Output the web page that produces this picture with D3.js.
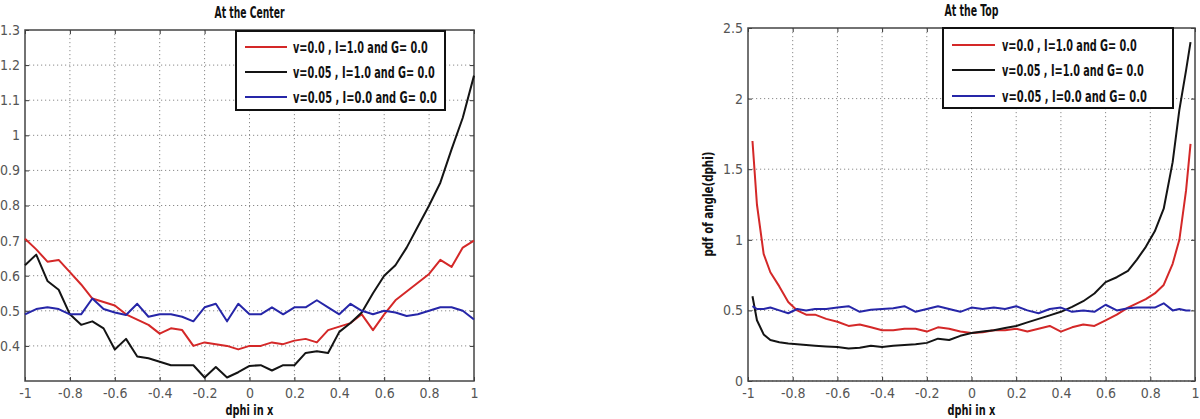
<!DOCTYPE html>
<html>
<head>
<meta charset="utf-8">
<script src="https://d3js.org/d3.v7.min.js"></script>
<style>
  body { margin: 0; background: #fff; }
  text { font-family: "Liberation Sans Narrow", "DejaVu Sans Condensed", "Liberation Sans", Arial, sans-serif; }
</style>
</head>
<body>
<div id="my_dataviz"></div>
<script>
// ---- data: left panel "At the Center" ----
const xCenter = [-1, -0.95, -0.9, -0.85, -0.8, -0.75, -0.7, -0.65, -0.6, -0.55, -0.5, -0.45, -0.4, -0.35, -0.3, -0.25, -0.2, -0.15, -0.1, -0.05,
  0, 0.05, 0.1, 0.15, 0.2, 0.25, 0.3, 0.35, 0.4, 0.45, 0.5, 0.55, 0.6, 0.65, 0.7, 0.75, 0.8, 0.85, 0.9, 0.95, 1];
const redCenter = [0.705, 0.675, 0.64, 0.645, 0.61, 0.575, 0.535, 0.525, 0.515, 0.49, 0.475, 0.46, 0.435, 0.45, 0.445, 0.40, 0.41, 0.405, 0.40, 0.39,
  0.40, 0.40, 0.41, 0.405, 0.415, 0.42, 0.41, 0.445, 0.455, 0.465, 0.49, 0.445, 0.49, 0.53, 0.555, 0.58, 0.605, 0.645, 0.625, 0.68, 0.70];
const blackCenter = [0.63, 0.66, 0.585, 0.56, 0.49, 0.46, 0.47, 0.45, 0.39, 0.42, 0.37, 0.365, 0.355, 0.345, 0.345, 0.345, 0.31, 0.34, 0.31, 0.325,
  0.343, 0.345, 0.33, 0.345, 0.345, 0.38, 0.385, 0.38, 0.44, 0.465, 0.495, 0.55, 0.60, 0.63, 0.68, 0.74, 0.80, 0.865, 0.96, 1.05, 1.17];
const blueCenter = [0.49, 0.505, 0.51, 0.505, 0.49, 0.49, 0.535, 0.505, 0.495, 0.488, 0.52, 0.483, 0.49, 0.49, 0.483, 0.47, 0.51, 0.52, 0.47, 0.52,
  0.49, 0.49, 0.51, 0.49, 0.51, 0.51, 0.53, 0.51, 0.49, 0.52, 0.50, 0.49, 0.50, 0.495, 0.485, 0.49, 0.50, 0.51, 0.51, 0.50, 0.475];
const yTicksCenter = [0.4, 0.5, 0.6, 0.7, 0.8, 0.9, 1, 1.1, 1.2, 1.3];

// ---- data: right panel "At the Top" ----
const xTop = [-0.98, -0.96, -0.93, -0.9, -0.86, -0.82, -0.78, -0.74, -0.7, -0.65, -0.6, -0.55, -0.5, -0.45, -0.4, -0.35, -0.3, -0.25, -0.2, -0.15, -0.1, -0.05,
  0, 0.05, 0.1, 0.15, 0.2, 0.25, 0.3, 0.35, 0.4, 0.45, 0.5, 0.55, 0.6, 0.65, 0.7, 0.74, 0.78, 0.82, 0.86, 0.9, 0.93, 0.96, 0.98];
const redTop = [1.70, 1.25, 0.90, 0.77, 0.67, 0.56, 0.50, 0.47, 0.47, 0.44, 0.42, 0.39, 0.40, 0.38, 0.36, 0.36, 0.37, 0.37, 0.35, 0.38, 0.37, 0.35,
  0.34, 0.345, 0.36, 0.36, 0.37, 0.35, 0.37, 0.39, 0.35, 0.38, 0.40, 0.39, 0.43, 0.47, 0.52, 0.55, 0.58, 0.62, 0.68, 0.83, 1.0, 1.35, 1.68];
const blackTop = [0.60, 0.43, 0.33, 0.29, 0.275, 0.265, 0.26, 0.255, 0.25, 0.245, 0.24, 0.23, 0.235, 0.25, 0.24, 0.25, 0.255, 0.26, 0.27, 0.30, 0.29, 0.32,
  0.34, 0.35, 0.36, 0.375, 0.39, 0.415, 0.44, 0.465, 0.49, 0.525, 0.565, 0.62, 0.70, 0.735, 0.78, 0.86, 0.95, 1.06, 1.22, 1.55, 1.92, 2.2, 2.4];
const blueTop = [0.53, 0.51, 0.51, 0.52, 0.50, 0.48, 0.51, 0.50, 0.51, 0.51, 0.52, 0.53, 0.49, 0.505, 0.51, 0.515, 0.53, 0.49, 0.51, 0.53, 0.51, 0.49,
  0.52, 0.51, 0.52, 0.51, 0.53, 0.50, 0.48, 0.51, 0.52, 0.49, 0.50, 0.49, 0.54, 0.50, 0.515, 0.52, 0.52, 0.52, 0.55, 0.50, 0.51, 0.50, 0.50];
const yTicksTop = [0, 0.5, 1, 1.5, 2, 2.5];

const xTicks = [-1, -0.8, -0.6, -0.4, -0.2, 0, 0.2, 0.4, 0.6, 0.8, 1];
const legendLabels = ["v=0.0 , I=1.0 and G= 0.0", "v=0.05 , I=1.0 and G= 0.0", "v=0.05 , I=0.0 and G= 0.0"];
const seriesColors = ["#d42828", "#141414", "#2626a8"];

// the svg object
const svg = d3.select("#my_dataviz")
  .append("svg")
    .attr("width", 1200)
    .attr("height", 419);

// bold text squeezed sideways to a given width (the matlab export looks condensed)
function boldText(g, str, x, y, w, size) {
  const t = g.append("text")
    .attr("font-size", size)
    .attr("font-weight", "bold")
    .attr("fill", "#111")
    .text(str);
  const k = w / t.node().getComputedTextLength();
  t.attr("transform", `translate(${x},${y}) scale(${k},1)`);
  return t;
}

function drawPanel(p) {
  const width = p.width, height = p.height;
  const g = svg.append("g").attr("transform", `translate(${p.left},${p.top})`);

  const x = d3.scaleLinear().domain([-1, 1]).range([0, width]);
  const y = d3.scaleLinear().domain(p.yDomain).range([height, 0]);

  // dotted grid
  const grid = g.append("g").attr("class", "grid");
  grid.selectAll("line.gx")
    .data(xTicks.slice(1, -1))
    .enter().append("line")
      .attr("x1", d => x(d)).attr("x2", d => x(d))
      .attr("y1", 0).attr("y2", height);
  grid.selectAll("line.gy")
    .data(p.yTicks.filter(d => d !== p.yDomain[1]))
    .enter().append("line")
      .attr("x1", 0).attr("x2", width)
      .attr("y1", d => y(d)).attr("y2", d => y(d));
  grid.selectAll("line")
    .attr("stroke", "#8a8a8a")
    .attr("stroke-width", 1)
    .attr("stroke-dasharray", "1.2,2.8");

  // axes with inward ticks
  const fmt = d => String(d);
  const xAxis = g.append("g")
    .attr("transform", `translate(0,${height})`)
    .call(d3.axisBottom(x).tickValues(xTicks).tickFormat(fmt).tickSizeInner(-4).tickSizeOuter(0).tickPadding(7));
  const yAxis = g.append("g")
    .call(d3.axisLeft(y).tickValues(p.yTicks).tickFormat(fmt).tickSizeInner(-4).tickSizeOuter(0).tickPadding(5));
  const xAxisTop = g.append("g")
    .call(d3.axisTop(x).tickValues(xTicks).tickFormat("").tickSizeInner(-4).tickSizeOuter(0));
  const yRight = g.append("g")
    .attr("transform", `translate(${width},0)`)
    .call(d3.axisRight(y).tickValues(p.yTicks).tickFormat("").tickSizeInner(-4).tickSizeOuter(0));
  [xAxis, yAxis, xAxisTop, yRight].forEach(a => {
    a.select(".domain").remove();
    a.selectAll(".tick line").attr("stroke", "#333").attr("stroke-width", 1);
    a.selectAll(".tick text").attr("fill", "#555").attr("font-size", 14)
      .style("font-family", "\"Liberation Sans Narrow\", \"DejaVu Sans Condensed\", sans-serif");
  });

  // frame
  g.append("rect")
    .attr("width", width).attr("height", height)
    .attr("fill", "none")
    .attr("stroke", "#444")
    .attr("stroke-width", 1.5);

  // curves
  const line = d3.line()
    .x(d => x(d[0]))
    .y(d => y(d[1]));
  p.series.forEach((vals, i) => {
    g.append("path")
      .datum(p.xs.map((xv, j) => [xv, vals[j]]))
      .attr("fill", "none")
      .attr("stroke", seriesColors[i])
      .attr("stroke-width", 2)
      .attr("stroke-linejoin", "round")
      .attr("d", line);
  });

  // legend
  const lg = g.append("g").attr("transform", `translate(${p.legend.x},${p.legend.y})`);
  lg.append("rect")
    .attr("width", p.legend.w).attr("height", p.legend.h)
    .attr("fill", "#fff")
    .attr("stroke", "#111")
    .attr("stroke-width", 2);
  legendLabels.forEach((lab, i) => {
    const ry = p.legend.rows[i];
    lg.append("line")
      .attr("x1", p.legend.lineX[0]).attr("x2", p.legend.lineX[1])
      .attr("y1", ry).attr("y2", ry)
      .attr("stroke", seriesColors[i])
      .attr("stroke-width", 2);
    boldText(lg, lab, p.legend.textX, ry + 6, p.legend.textW[i], 16);
  });

  // titles
  boldText(g, p.title, x(0) - p.titleW / 2, -12, p.titleW, 16);
  boldText(g, "dphi in x", x(0) - 24, height + 34, 48, 14);
  if (p.ylabel) {
    const yl = g.append("g").attr("transform", `translate(-35,${height / 2 + 52}) rotate(-90)`);
    boldText(yl, p.ylabel, 0, 0, 105, 14);
  }
}

drawPanel({
  left: 25, top: 30, width: 449, height: 351,
  yDomain: [0.3, 1.3], yTicks: yTicksCenter,
  xs: xCenter, series: [redCenter, blackCenter, blueCenter],
  title: "At the Center", titleW: 70,
  legend: {x: 211, y: 1, w: 209, h: 79, rows: [16, 41, 66], lineX: [9, 51], textX: 57, textW: [135, 142, 144]}
});

drawPanel({
  left: 748, top: 28, width: 447, height: 353,
  yDomain: [0, 2.5], yTicks: yTicksTop,
  xs: xTop, series: [redTop, blackTop, blueTop],
  title: "At the Top", titleW: 54,
  ylabel: "pdf of angle(dphi)",
  legend: {x: 195, y: 0, w: 230, h: 80, rows: [17, 42, 68], lineX: [9, 52], textX: 59, textW: [135, 142, 145]}
});
</script>
</body>
</html>
